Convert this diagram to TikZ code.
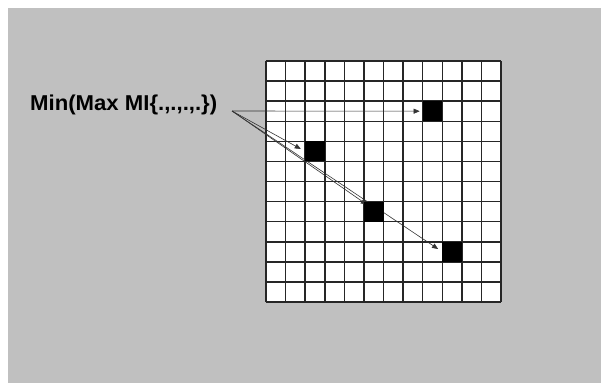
\documentclass[tikz,border=0pt]{standalone}
\usepackage{fontspec}
\newfontfamily\labelfont{Liberation Sans}
\usetikzlibrary{arrows.meta,calc,positioning}
\definecolor{slide}{HTML}{C0C0C0}
\tikzset{
    gridline/.style={line width=1.5pt,draw=black!85},
    pointer/.style={line width=.6pt,draw=black!80,-{Triangle[length=6pt,width=5pt]}}
}

\begin{document}
\begin{tikzpicture}[x=1pt,y=-1pt,
  hit/.style={minimum width=19.6pt,minimum height=20.1pt,inner sep=0pt,outer sep=0pt}]
\useasboundingbox (0,0) rectangle (601,383);
\fill[slide] (8,8) rectangle (601,383);

% the 12x12 board
\fill[white] (266,61) rectangle (501,302);
\foreach \i in {0,...,12} {
    \draw[gridline] (266+\i*19.583,61) -- ++(0,241);
    \draw[gridline] (266,61+\i*20.083) -- ++(235,0);
}

% selected cells (col/row)
\foreach \n/\c/\r in {c1/8/2,c2/2/4,c3/5/7,c4/9/9}
    \path (266+\c*19.583+9.79,61+\r*20.083+10.04) node[hit] (\n) {};

\node[anchor=base west,inner sep=0pt,xscale=1.03,
      font=\labelfont\bfseries\fontsize{21.5}{21.5}\selectfont] (lbl) at (30,110.7) {Min(Max MI\{.,.,.,.\})};
\coordinate (src) at (232,111);

\draw[pointer,shorten >=3pt] (src) -- (c1.west);
\draw[pointer,shorten >=5pt] (src) -- (c2.west);
\draw[pointer] (src) -- ($(c3.north west)!.3!(c3.center)$);
\draw[pointer,shorten >=5pt] (src) -- (c4.west);

\foreach \n in {c1,c2,c3,c4}
    \fill (\n.north west) rectangle (\n.south east);
\end{tikzpicture}
\end{document}
